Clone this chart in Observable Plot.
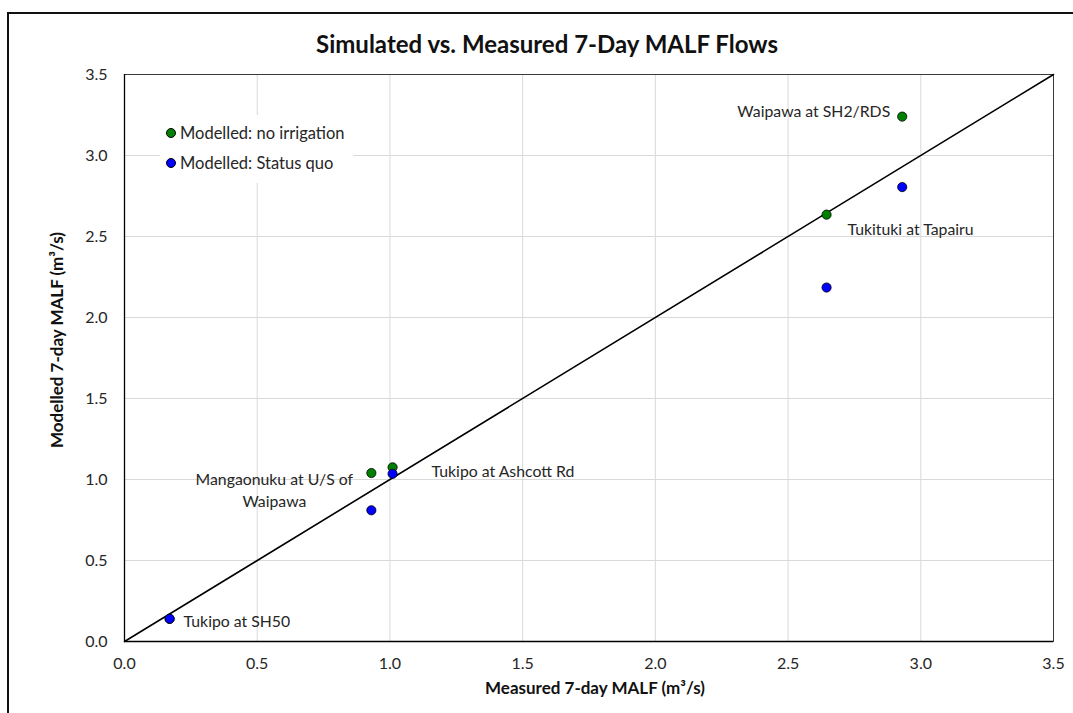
<!DOCTYPE html>
<html>
<head>
<meta charset="utf-8">
<script src="https://cdn.jsdelivr.net/npm/d3@7"></script>
<script src="https://cdn.jsdelivr.net/npm/@observablehq/plot@0.6"></script>
<style>
  body { margin: 0; background: #fff; font-family: Lato, "Open Sans", sans-serif; }
  #chart { position: relative; width: 1073px; height: 713px; overflow: hidden; }
  #chart svg { position: absolute; left: 0; top: 0; }
  #border { position: absolute; left: 7px; top: 12px; width: 1120px; height: 760px;
            border: 2px solid #111; box-sizing: border-box; pointer-events: none; }
  #legend { position: absolute; left: 160px; top: 115px; width: 193px; height: 68px;
            background: #fff; font-size: 16.5px; color: #262626; }
  #legend .item { position: absolute; left: 6px; display: flex; align-items: center; white-space: nowrap; line-height: 1; }
  #legend .sw { width: 8px; height: 8px; border-radius: 50%; border: 0.8px solid #000; margin-right: 4px; }
</style>
</head>
<body>
<div id="chart">
  <div id="border"></div>
</div>
<script>
// Gauging sites and 7-day MALF flows (m³/s)
const sites = ["Tukipo at SH50", "Mangaonuku at U/S of Waipawa", "Tukipo at Ashcott Rd", "Tukituki at Tapairu", "Waipawa at SH2/RDS"];
const siteLabels = ["Tukipo at SH50", "Mangaonuku at U/S of\nWaipawa", "Tukipo at Ashcott Rd", "Tukituki at Tapairu", "Waipawa at SH2/RDS"];
const measured = [0.17, 0.93, 1.01, 2.645, 2.93];
const modelledNoIrrigation = [0.14, 1.04, 1.075, 2.635, 3.24];
const modelledStatusQuo = [0.14, 0.81, 1.035, 2.185, 2.805];
const axisTicks = [0, 0.5, 1.0, 1.5, 2.0, 2.5, 3.0, 3.5];
const seriesNames = ["Modelled: no irrigation", "Modelled: Status quo"];
const seriesColors = ["#008000", "#0000ff"];

// Which series each site label sits next to, and its offset from that point
const labelLayout = {
  "Tukipo at SH50":               {series: 1, dx: 14,  dy: 1,   anchor: "start"},
  "Mangaonuku at U/S of Waipawa": {series: 0, dx: -97, dy: 16,  anchor: "middle"},
  "Tukipo at Ashcott Rd":         {series: 1, dx: 39,  dy: -4,  anchor: "start"},
  "Tukituki at Tapairu":          {series: 0, dx: 21,  dy: 13,  anchor: "start"},
  "Waipawa at SH2/RDS":           {series: 0, dx: -12, dy: -7,  anchor: "end"}
};

const rows = sites.map((s, i) => ({
  site: s, label: siteLabels[i], measured: measured[i],
  noIrr: modelledNoIrrigation[i], sq: modelledStatusQuo[i]
}));
const labelMarks = rows.map(r => {
  const L = labelLayout[r.site];
  return Plot.text([r], {
    x: "measured", y: L.series === 0 ? "noIrr" : "sq", text: "label",
    dx: L.dx, dy: L.dy, textAnchor: L.anchor, lineAnchor: "middle",
    lineHeight: 1.4, fontSize: 15.8, fill: "#262626"
  });
});

const domain = [axisTicks[0], axisTicks[axisTicks.length - 1]];
const fmt = d3.format(".1f");

const chart = Plot.plot({
  width: 1073, height: 713,
  marginLeft: 124, marginRight: 20, marginTop: 74, marginBottom: 72,
  style: {fontFamily: "Lato, 'Open Sans', sans-serif", background: "transparent", overflow: "visible"},
  x: {domain, ticks: axisTicks},
  y: {domain, ticks: axisTicks},
  marks: [
    Plot.gridX(axisTicks, {stroke: "#d9d9d9", strokeOpacity: 1}),
    Plot.gridY(axisTicks, {stroke: "#d9d9d9", strokeOpacity: 1}),
    Plot.frame({stroke: "#3a3a3a", strokeWidth: 1}),
    Plot.axisX(axisTicks, {tickSize: 0, tickPadding: 16, tickFormat: fmt, fontSize: 16, fill: "#262626", label: null}),
    Plot.axisY(axisTicks, {tickSize: 0, tickPadding: 17, tickFormat: fmt, fontSize: 16, fill: "#262626", label: null}),
    Plot.ruleX([domain[0]], {stroke: "#000", strokeWidth: 1.3}),
    Plot.ruleY([domain[0]], {stroke: "#000", strokeWidth: 1.3}),
    // 1:1 reference line
    Plot.line(domain, {x: d => d, y: d => d, stroke: "#000", strokeWidth: 1.6}),
    Plot.dot(rows, {x: "measured", y: "noIrr", r: 4.6, fill: seriesColors[0], stroke: "#000", strokeWidth: 0.8}),
    Plot.dot(rows, {x: "measured", y: "sq", r: 4.6, fill: seriesColors[1], stroke: "#000", strokeWidth: 0.8}),
    ...labelMarks,
    Plot.text(["Simulated vs. Measured 7-Day MALF Flows"], {
      frameAnchor: "top", dy: -29, dx: -42, fontSize: 24, fontWeight: "bold", fill: "#111", lineAnchor: "middle"
    }),
    Plot.text(["Measured 7-day MALF (m³/s)"], {
      frameAnchor: "bottom", dy: 47, dx: 6, fontSize: 17, fontWeight: "bold", fill: "#111", lineAnchor: "middle"
    }),
    Plot.text(["Modelled 7-day MALF (m³/s)"], {
      frameAnchor: "left", dx: -67, dy: -18, rotate: -90, textAnchor: "middle",
      fontSize: 17, fontWeight: "bold", fill: "#111", lineAnchor: "middle"
    })
  ]
});
document.getElementById("chart").prepend(chart);

// Legend box drawn over the grid in the upper-left of the plot
const legend = document.createElement("div");
legend.id = "legend";
seriesNames.forEach((name, i) => {
  const item = document.createElement("div");
  item.className = "item";
  item.style.top = (i === 0 ? 10 : 40) + "px";
  const sw = document.createElement("span");
  sw.className = "sw";
  sw.style.background = seriesColors[i];
  const t = document.createElement("span");
  t.textContent = name;
  item.append(sw, t);
  legend.append(item);
});
document.getElementById("chart").append(legend);
</script>
</body>
</html>
